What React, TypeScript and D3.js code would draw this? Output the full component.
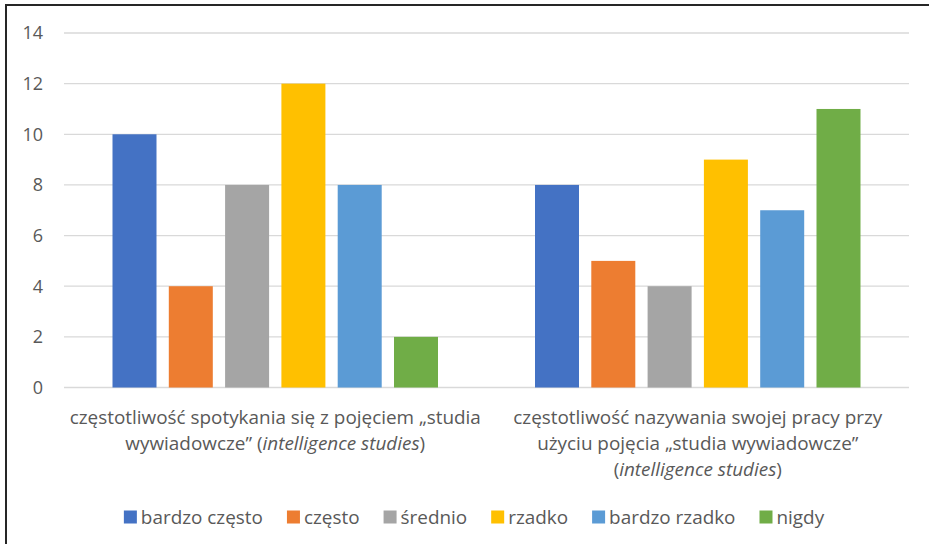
import React, { useEffect, useRef } from "react";
import * as d3 from "d3";

const categories = ["g1", "g2"];
const categoryLines: { text: string; italic?: boolean }[][][] = [
  [
    [{ text: "częstotliwość spotykania się z pojęciem „studia" }],
    [{ text: "wywiadowcze” (" }, { text: "intelligence studies", italic: true }, { text: ")" }],
  ],
  [
    [{ text: "częstotliwość nazywania swojej pracy przy" }],
    [{ text: "użyciu pojęcia „studia wywiadowcze”" }],
    [{ text: "(" }, { text: "intelligence studies", italic: true }, { text: ")" }],
  ],
];
const seriesNames = ["bardzo często", "często", "średnio", "rzadko", "bardzo rzadko", "nigdy"];
const seriesColors = ["#4472C4", "#ED7D31", "#A5A5A5", "#FFC000", "#5B9BD5", "#70AD47"];
const bardzoCzesto = [10, 8];
const czesto = [4, 5];
const srednio = [8, 4];
const rzadko = [12, 9];
const bardzoRzadko = [8, 7];
const nigdy = [2, 11];
const seriesValues = [bardzoCzesto, czesto, srednio, rzadko, bardzoRzadko, nigdy];
const yTicks = [0, 2, 4, 6, 8, 10, 12, 14];

const W = 929;
const H = 544;
const FONT = "'Open Sans', Lato, sans-serif";
const FS = 18.9;
const TEXT = "#595959";

export default function App() {
  const ref = useRef<SVGSVGElement>(null);

  useEffect(() => {
    const svg = d3.select(ref.current);
    svg.selectAll("*").remove();

    const left = 64, right = 909, top = 33, bottom = 387.5;
    const y = d3.scaleLinear().domain([0, 14]).range([bottom, top]);
    const x0 = d3.scaleBand<string>().domain(categories).range([left, right]).padding(0);
    const step = 56.3, bw = 44;
    const pi = (step - bw) / step;
    const n = seriesNames.length;
    const po = (x0.bandwidth() / step - n + pi) / 2;
    const x1 = d3.scaleBand<string>().domain(seriesNames).range([0, x0.bandwidth()]).paddingInner(pi).paddingOuter(po);

    // border
    svg.append("rect").attr("x", 6).attr("y", 5).attr("width", 960).attr("height", 600)
      .attr("fill", "#fff").attr("stroke", "#262626").attr("stroke-width", 2);

    // gridlines
    svg.append("g").selectAll("line").data(yTicks).join("line")
      .attr("x1", left).attr("x2", right)
      .attr("y1", (d) => y(d)).attr("y2", (d) => y(d))
      .attr("stroke", "#D9D9D9").attr("stroke-width", 1.3);

    svg.append("g").selectAll("text").data(yTicks).join("text")
      .attr("x", 43).attr("y", (d) => y(d)).attr("dy", "0.36em")
      .attr("text-anchor", "end").attr("font-family", FONT).attr("font-size", 18)
      .attr("fill", TEXT).text((d) => String(d));

    // bars
    const g = svg.append("g");
    categories.forEach((c, ci) => {
      seriesNames.forEach((s, si) => {
        const v = seriesValues[si][ci];
        g.append("rect")
          .attr("x", (x0(c) ?? 0) + (x1(s) ?? 0))
          .attr("y", y(v))
          .attr("width", x1.bandwidth())
          .attr("height", y(0) - y(v))
          .attr("fill", seriesColors[si]);
      });
    });

    // category labels
    categories.forEach((c, ci) => {
      const cx = (x0(c) ?? 0) + x0.bandwidth() / 2;
      categoryLines[ci].forEach((line, li) => {
        const t = svg.append("text")
          .attr("x", cx).attr("y", 417 + li * 26).attr("dy", "0.36em")
          .attr("text-anchor", "middle").attr("font-family", FONT).attr("font-size", FS)
          .attr("fill", TEXT);
        line.forEach((p) => {
          t.append("tspan").attr("font-style", p.italic ? "italic" : "normal").text(p.text);
        });
      });
    });

    // legend
    const lg = svg.append("g");
    const items = seriesNames.map((s, i) => {
      const it = lg.append("g");
      it.append("rect").attr("x", 0).attr("y", -6.5).attr("width", 13).attr("height", 13).attr("fill", seriesColors[i]);
      const t = it.append("text").attr("x", 17).attr("y", 0).attr("dy", "0.36em")
        .attr("font-family", FONT).attr("font-size", FS).attr("fill", TEXT).text(s);
      const w = 17 + (t.node() as SVGTextElement).getComputedTextLength();
      return { it, w };
    });
    const gap = 24;
    const total = d3.sum(items, (d) => d.w) + gap * (items.length - 1);
    let cx = 474 - total / 2;
    items.forEach(({ it, w }) => {
      it.attr("transform", `translate(${cx},517)`);
      cx += w + gap;
    });
  }, []);

  return (
    <svg ref={ref} width={W} height={H} style={{ position: "absolute", left: 0, top: 0, background: "#fff" }} />
  );
}
